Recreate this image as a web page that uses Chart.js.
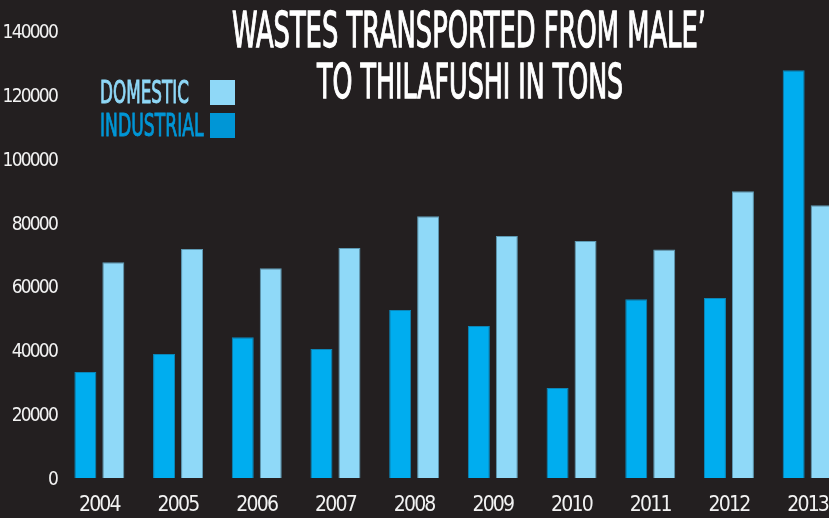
<!DOCTYPE html>
<html>
<head>
<meta charset="utf-8">
<script src="https://cdn.jsdelivr.net/npm/chart.js@4.4.1/dist/chart.umd.min.js"></script>
<style>
	html, body { margin: 0; padding: 0; background: #231f20; overflow: hidden; }
	#wrap { position: relative; width: 829px; height: 518px; overflow: hidden; }
	#chartCanvas { position: absolute; left: 0; top: 0; }
	.txt { position: absolute; white-space: nowrap; font-family: 'DejaVu Sans Condensed', sans-serif; transform-origin: 0 0; line-height: 1; }
	.box { position: absolute; width: 25px; height: 25px; }
</style>
</head>
<body>
<div id="wrap">
	<canvas id="chartCanvas" width="850" height="518"></canvas>
	<div class="txt" id="title1" style="color:#ffffff;font-size:47px;-webkit-text-stroke:1.2px #ffffff;">WASTES TRANSPORTED FROM MALE’</div>
	<div class="txt" id="title2" style="color:#ffffff;font-size:45px;-webkit-text-stroke:1.2px #ffffff;">TO THILAFUSHI IN TONS</div>
	<div class="txt" id="legDom" style="color:#8fd8f7;font-size:30px;-webkit-text-stroke:0.9px #8fd8f7;">DOMESTIC</div>
	<div class="txt" id="legInd" style="color:#0096d6;font-size:30px;-webkit-text-stroke:0.9px #0096d6;">INDUSTRIAL</div>
	<div class="box" style="left:210px;top:80px;background:#8fd8f7;"></div>
	<div class="box" style="left:210px;top:113px;background:#0096d6;"></div>
</div>
<script>
//data (tons)
var years = ['2004', '2005', '2006', '2007', '2008', '2009', '2010', '2011', '2012', '2013'];
var industrial = [33200, 38800, 44100, 40400, 52600, 47600, 28200, 56000, 56400, 127700];
var domestic = [67600, 71700, 65700, 72000, 82000, 75800, 74200, 71600, 89800, 85400];
var yTicks = [0, 20000, 40000, 60000, 80000, 100000, 120000, 140000];

var tickFont = "'DejaVu Sans Condensed', sans-serif";

//squeeze a text block into the box it takes in the picture
function FitText(id, left, top, width, height) {
	var el = document.getElementById(id);
	var w = el.offsetWidth;
	var h = el.offsetHeight;
	el.style.left = left + 'px';
	el.style.top = top + 'px';
	el.style.transform = 'scale(' + (width / w) + ',' + (height / h) + ')';
}

//tighter letters so the tick labels look condensed like the original
var tightText = {
	id: 'tightText',
	beforeDraw: function (chart) { chart.ctx.letterSpacing = '-1.8px'; },
	afterDraw: function (chart) { chart.ctx.letterSpacing = '0px'; }
};

window.onload = function () {
	FitText('title1', 232, 4, 474, 50);
	FitText('title2', 317, 57, 306, 48);
	FitText('legDom', 100, 76, 89, 32);
	FitText('legInd', 100, 109, 104, 32);

	var ctx = document.getElementById('chartCanvas');
	new Chart(ctx, {
		type: 'bar',
		data: {
			labels: years,
			datasets: [{
				label: 'Industrial',
				data: industrial,
				backgroundColor: '#00adef',
				borderColor: '#0b86b8',
				borderWidth: 1,
				categoryPercentage: 0.711,
				barPercentage: 0.786
			},
			{
				label: 'Domestic',
				data: domestic,
				backgroundColor: '#8fd9f8',
				borderColor: '#5d9ab4',
				borderWidth: 1,
				categoryPercentage: 0.711,
				barPercentage: 0.786
			}]
		},
		plugins: [tightText],
		options: {
			responsive: false,
			animation: false,
			layout: { padding: { top: 31, right: 3, left: 0, bottom: 0 } },
			plugins: {
				legend: { display: false },
				title: { display: false },
				tooltip: { enabled: false }
			},
			scales: {
				x: {
					grid: { display: false, drawTicks: false },
					border: { display: false },
					ticks: {
						color: '#f2f2f2',
						padding: 15,
						font: { size: 21, family: tickFont }
					},
					afterFit: function (scale) { scale.height = 40; }
				},
				y: {
					min: 0,
					max: 140000,
					grid: { display: false, drawTicks: false },
					border: { display: false },
					afterBuildTicks: function (scale) {
						scale.ticks = yTicks.map(function (v) { return { value: v }; });
					},
					ticks: {
						color: '#f2f2f2',
						padding: 3,
						labelOffset: 2,
						font: { size: 19, family: tickFont },
						callback: function (value) { return String(value); }
					},
					afterFit: function (scale) { scale.width = 60; }
				}
			}
		}
	});
};
</script>
</body>
</html>
